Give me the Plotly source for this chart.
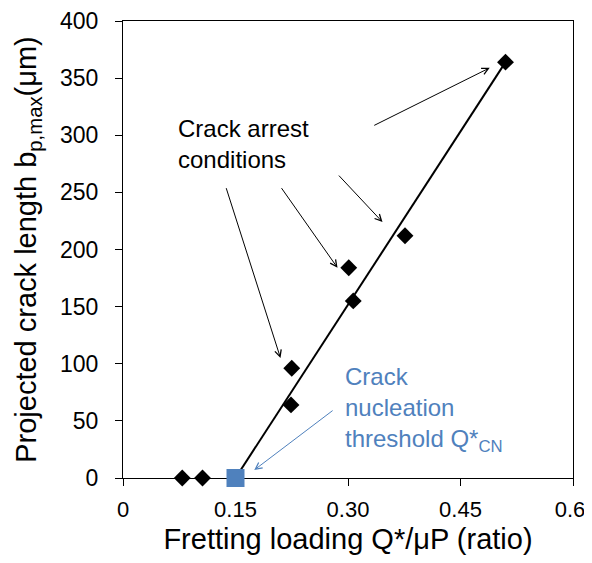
import plotly.graph_objects as go

# measured points (diamonds)
load_ratio = [0.079, 0.106, 0.224, 0.225, 0.301, 0.307, 0.376, 0.510]
crack_len = [0, 0, 64, 96, 184, 155, 212, 364]

# crack nucleation threshold
q_cn = [0.150]
q_cn_len = [0]

# trend line
fit_x = [0.150, 0.510]
fit_y = [0, 364]

x_ticks = [0, 0.15, 0.30, 0.45, 0.6]
x_tick_text = ["0", "0.15", "0.30", "0.45", "0.6\u00a0"]
y_ticks = [0, 50, 100, 150, 200, 250, 300, 350, 400]

blue = "#4F81BD"
font_name = "Liberation Sans, Arial, sans-serif"

fig = go.Figure()

fig.add_trace(go.Scatter(
    x=fit_x, y=fit_y,
    mode="lines",
    line=dict(color="black", width=2),
    showlegend=False,
))
fig.add_trace(go.Scatter(
    x=load_ratio, y=crack_len,
    mode="markers",
    marker=dict(symbol="diamond", size=13, color="black"),
    cliponaxis=False,
    showlegend=False,
))
fig.add_trace(go.Scatter(
    x=q_cn, y=q_cn_len,
    mode="markers",
    marker=dict(symbol="square", size=18, color=blue),
    cliponaxis=False,
    showlegend=False,
))

# arrows for crack arrest conditions (head x, head y, tail x, tail y)
arrows = [
    (0.489, 359, 0.333, 308),
    (0.346, 224, 0.286, 266),
    (0.286, 184, 0.210, 255),
    (0.210, 105, 0.137, 255),
]
for hx, hy, tx, ty in arrows:
    fig.add_annotation(
        x=hx, y=hy, ax=tx, ay=ty, xref="x", yref="y", axref="x", ayref="y",
        text="", showarrow=True, arrowhead=5, arrowsize=1.3,
        arrowwidth=1, arrowcolor="black",
    )

fig.add_annotation(
    x=0.070, y=292, xref="x", yref="y",
    text="Crack arrest<br>conditions", showarrow=False,
    xanchor="left", yanchor="middle", align="left",
    font=dict(size=24, color="black", family=font_name),
)

fig.add_annotation(
    x=0.175, y=7, ax=0.2815, ay=60, xref="x", yref="y", axref="x", ayref="y",
    text="", showarrow=True, arrowhead=5, arrowsize=1.3,
    arrowwidth=1, arrowcolor=blue,
)
fig.add_annotation(
    x=0.293, y=60, xref="x", yref="y",
    text="Crack<br>nucleation<br>threshold Q*<sub>CN</sub>", showarrow=False,
    xanchor="left", yanchor="middle", align="left",
    font=dict(size=24, color=blue, family=font_name),
)

# page body adds 8px on every side, so the figure is sized to fit inside the window
fig.update_layout(
    width=576, height=547,
    margin=dict(l=115, r=11, t=13, b=77),
    plot_bgcolor="white",
    paper_bgcolor="white",
    font=dict(family=font_name, color="black"),
    showlegend=False,
)
fig.update_xaxes(
    range=[0, 0.6], automargin=False,
    tickvals=x_ticks, ticktext=x_tick_text,
    tickfont=dict(size=22), ticklabelstandoff=5, ticklabeloverflow="allow",
    ticks="outside", ticklen=7, tickcolor="black",
    showline=True, linecolor="black", linewidth=1, mirror=True,
    showgrid=False, zeroline=False, layer="below traces",
    title=dict(text="Fretting loading Q*/μP (ratio)", font=dict(size=29), standoff=8),
)
fig.update_yaxes(
    range=[0, 400], automargin=False,
    tickvals=y_ticks,
    tickfont=dict(size=23), ticklabelstandoff=12, ticklabeloverflow="allow",
    ticks="outside", ticklen=7, tickcolor="black",
    showline=True, linecolor="black", linewidth=1, mirror=True,
    showgrid=False, zeroline=False, layer="below traces",
    title=dict(text="Projected crack length b<sub>p,max</sub>(μm)", font=dict(size=29), standoff=14),
)

fig.write_html("out.html")
